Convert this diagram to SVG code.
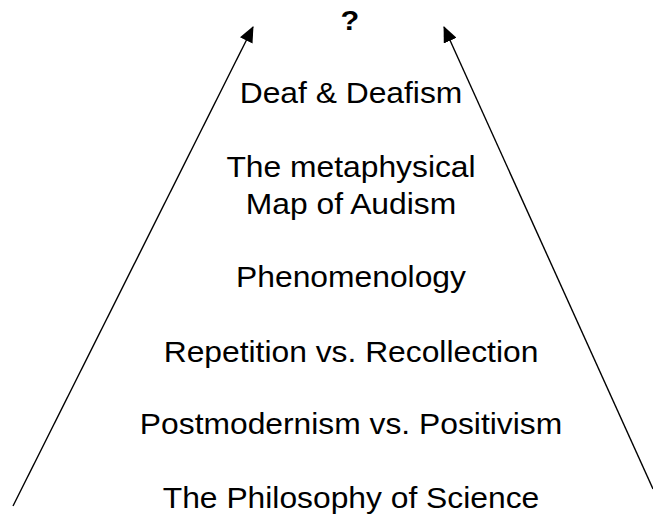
<svg xmlns="http://www.w3.org/2000/svg" width="653" height="515" viewBox="0 0 653 515">
  <style>
    .lbl { font-family: "Liberation Sans", Arial, sans-serif; font-size: 29px; fill: #000; text-anchor: middle; }
    .q { font-weight: bold; font-size: 28px; }
    .conn { stroke: #000; stroke-width: 1.4; fill: none; marker-end: url(#arrow); }
  </style>
  <defs>
    <marker id="arrow" markerUnits="userSpaceOnUse" markerWidth="16" markerHeight="14" refX="15" refY="7" orient="auto">
      <path d="M0,0 L16,7 L0,14 z" fill="#000"/>
    </marker>
  </defs>
  <rect width="653" height="515" fill="#fff"/>
  <g id="connectors">
    <line class="conn" x1="13" y1="506" x2="253" y2="27"/>
    <line class="conn" x1="653" y1="489" x2="444" y2="27"/>
  </g>
  <g transform="translate(351,0) scale(1.097,1)">
    <g id="top"><text class="lbl q" x="-1" y="30">?</text></g>
    <g id="deaf"><text class="lbl" x="0" y="103">Deaf &amp; Deafism</text></g>
    <g id="map">
      <text class="lbl" x="0" y="177">The metaphysical</text>
      <text class="lbl" x="0" y="214">Map of Audism</text>
    </g>
    <g id="phenomenology"><text class="lbl" x="0" y="287">Phenomenology</text></g>
    <g id="repetition"><text class="lbl" x="0" y="362.5">Repetition vs. Recollection</text></g>
    <g id="postmodernism"><text class="lbl" x="0" y="434.5">Postmodernism vs. Positivism</text></g>
    <g id="philosophy"><text class="lbl" x="0" y="508">The Philosophy of Science</text></g>
  </g>
</svg>
